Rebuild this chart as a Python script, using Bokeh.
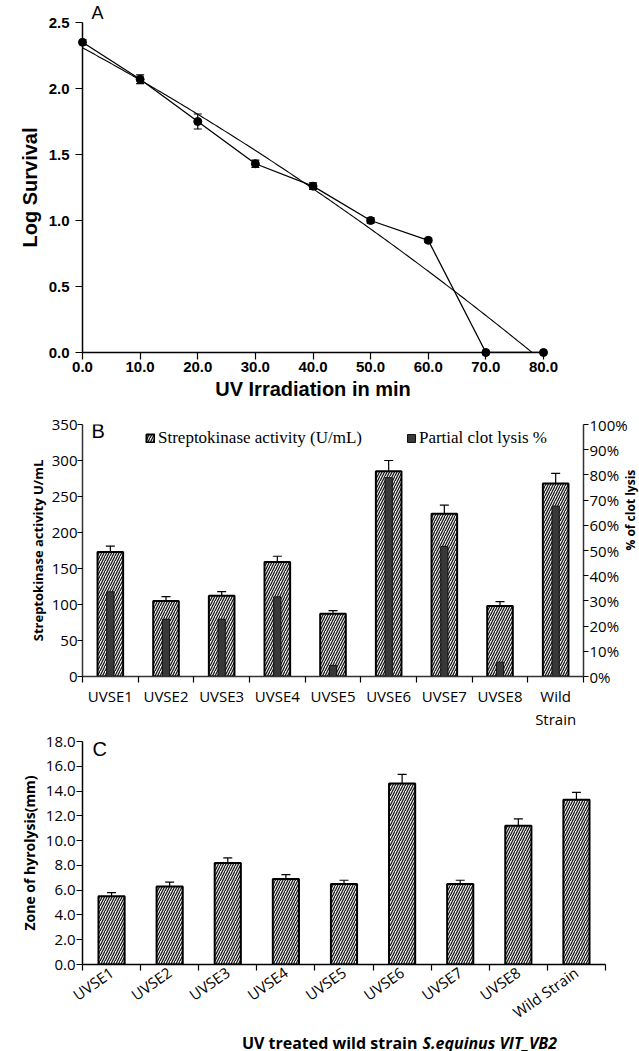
import math
import numpy as np
from bokeh.plotting import figure
from bokeh.layouts import column
from bokeh.core.properties import value
from bokeh.models import (ColumnDataSource, Whisker, TeeHead, FixedTicker, Range1d, LinearAxis,
                          PrintfTickFormatter, Label, Legend, LegendItem)
from bokeh.embed import file_html
from bokeh.resources import INLINE

# ---------------- data ----------------
# Panel A
uv_minutes = [0, 10, 20, 30, 40, 50, 60, 70, 80]
log_survival = [2.35, 2.07, 1.75, 1.43, 1.26, 1.00, 0.85, 0.0, 0.0]
log_survival_err = [0.02, 0.033, 0.057, 0.028, 0.025, 0.02, 0.015, 0.0, 0.0]
a_x_ticks = [0, 10, 20, 30, 40, 50, 60, 70, 80]
a_y_ticks = [0, 0.5, 1.0, 1.5, 2.0, 2.5]

# Panel B
strains_b = ["UVSE1", "UVSE2", "UVSE3", "UVSE4", "UVSE5", "UVSE6", "UVSE7", "UVSE8", "Wild"]
strains_b_line2 = ["", "", "", "", "", "", "", "", "Strain"]
streptokinase = [173, 105, 112, 159, 87, 285, 226, 98, 268]
streptokinase_err = [8, 6, 6, 8, 4.5, 15, 12, 6, 14]
clot_lysis_pct = [33.6, 22.7, 22.7, 31.6, 4.4, 78.9, 51.6, 5.7, 67.6]
b_left_ticks = [0, 50, 100, 150, 200, 250, 300, 350]
b_right_ticks = [0, 10, 20, 30, 40, 50, 60, 70, 80, 90, 100]

# Panel C
strains_c = ["UVSE1", "UVSE2", "UVSE3", "UVSE4", "UVSE5", "UVSE6", "UVSE7", "UVSE8", "Wild Strain"]
hydrolysis = [5.5, 6.3, 8.2, 6.9, 6.5, 14.6, 6.5, 11.2, 13.3]
hydrolysis_err = [0.3, 0.35, 0.4, 0.35, 0.3, 0.75, 0.3, 0.55, 0.6]
c_y_ticks = [0, 2, 4, 6, 8, 10, 12, 14, 16, 18]
c_caption = ["UV treated wild strain", "S.equinus VIT_VB2"]

W = 639
SANS = "Liberation Sans"
CAL = "Open Sans"
HATCH = dict(fill_color="#ececec", hatch_pattern="/", hatch_color="#111111",
             hatch_scale=5, hatch_weight=1.2)

def style_axis(ax, font, size, bold=False):
    ax.axis_line_color = "black"
    ax.axis_line_width = 1.5
    ax.major_tick_line_color = "black"
    ax.major_tick_line_width = 1.2
    ax.minor_tick_line_color = "black"
    ax.minor_tick_line_width = 1.2
    ax.major_tick_in = 0
    ax.major_tick_out = 6
    ax.minor_tick_in = 0
    ax.minor_tick_out = 0
    ax.major_label_text_font = font
    ax.major_label_text_font_size = f"{size}px"
    ax.major_label_text_color = "black"
    ax.major_label_text_font_style = "bold" if bold else "normal"
    ax.axis_label_text_color = "black"

def text_label(**kw):
    base = dict(x_units="screen", y_units="screen", text_baseline="middle",
                text_align="left", text_color="black", level="overlay")
    base.update(kw)
    return Label(**base)

# ---------------- Panel A ----------------
pA = figure(frame_width=461, frame_height=330, x_range=Range1d(0, 80), y_range=Range1d(0, 2.5),
            output_backend="svg", toolbar_location=None,
            min_border_left=76, min_border_right=102, min_border_top=0, min_border_bottom=54)
pA.title.text = "A"
pA.title.text_font = SANS
pA.title.text_font_size = "18px"
pA.title.text_font_style = "normal"
pA.title.text_color = "black"
pA.title.align = "left"
pA.title.offset = 9
pA.title.standoff = 0
pA.outline_line_color = None
pA.grid.visible = False
for ax in (pA.xaxis[0], pA.yaxis[0]):
    style_axis(ax, SANS, 15, bold=True)
    ax.formatter = PrintfTickFormatter(format="%.1f")
    ax.axis_label_text_font = SANS
    ax.axis_label_text_font_size = "20px"
    ax.axis_label_text_font_style = "bold"
    ax.major_tick_out = 7
pA.xaxis.ticker = FixedTicker(ticks=a_x_ticks)
pA.yaxis.ticker = FixedTicker(ticks=a_y_ticks)
pA.xaxis.axis_label = "UV Irradiation in min"
pA.yaxis.axis_label = "Log Survival"
pA.xaxis.major_label_standoff = 2
pA.xaxis.axis_label_standoff = 3
pA.yaxis.major_label_standoff = 6
pA.yaxis.axis_label_standoff = 5

srcA = ColumnDataSource(dict(x=uv_minutes, y=log_survival,
                             lo=[v - e for v, e in zip(log_survival, log_survival_err)],
                             hi=[v + e for v, e in zip(log_survival, log_survival_err)]))
# quadratic trendline fitted to the measured points
coef = np.polyfit(uv_minutes, log_survival, 2)
tx = np.linspace(min(uv_minutes), max(uv_minutes), 200)
pA.line(tx, np.polyval(coef, tx), line_color="black", line_width=1.1)
pA.line("x", "y", source=srcA, line_color="black", line_width=1.3)
pA.add_layout(Whisker(base="x", upper="hi", lower="lo", source=srcA, line_color="black", line_width=1.2,
                      upper_head=TeeHead(size=8, line_color="black", line_width=1.2),
                      lower_head=TeeHead(size=8, line_color="black", line_width=1.2)))
pA.scatter("x", "y", source=srcA, size=8, color="black", level="overlay")

# ---------------- Panel B ----------------
nb = len(strains_b)
centers_b = [i + 0.5 for i in range(nb)]
bounds_b = [float(i) for i in range(nb + 1)]
pB = figure(frame_width=501, frame_height=252, x_range=Range1d(0, nb), y_range=Range1d(0, 350),
            output_backend="svg", toolbar_location=None,
            min_border_left=71, min_border_right=60, min_border_top=18, min_border_bottom=44)
pB.outline_line_color = None
pB.grid.visible = False
pB.extra_y_ranges = {"pct": Range1d(0, 100)}

srcB = ColumnDataSource(dict(x=centers_b, s=streptokinase, c=clot_lysis_pct,
                             lo=[v - e for v, e in zip(streptokinase, streptokinase_err)],
                             hi=[v + e for v, e in zip(streptokinase, streptokinase_err)]))
rb1 = pB.vbar(x="x", top="s", width=0.46, source=srcB, line_color="black", line_width=2, **HATCH)
rb2 = pB.vbar(x="x", top="c", width=0.13, source=srcB, y_range_name="pct",
              fill_color="#383838", line_color="#111111", line_width=1)
pB.add_layout(Whisker(base="x", upper="hi", lower="lo", source=srcB, line_color="black", line_width=1.2,
                      upper_head=TeeHead(size=9, line_color="black", line_width=1.2),
                      lower_head=TeeHead(size=9, line_color="black", line_width=1.2)))

style_axis(pB.xaxis[0], CAL, 15)
pB.xaxis.ticker = FixedTicker(ticks=centers_b, minor_ticks=bounds_b)
pB.xaxis.major_label_overrides = {c: s for c, s in zip(centers_b, strains_b)}
pB.xaxis.major_tick_out = 0
pB.xaxis.minor_tick_out = 6
pB.xaxis.major_label_standoff = 3
pB.xaxis.axis_line_color = "#333333"
# second line of the category labels ("Strain")
axB2 = LinearAxis(ticker=FixedTicker(ticks=centers_b),
                  major_label_overrides={c: s for c, s in zip(centers_b, strains_b_line2)})
style_axis(axB2, CAL, 15)
axB2.axis_line_color = None
axB2.major_tick_out = 0
axB2.major_label_standoff = 0
pB.add_layout(axB2, "below")

style_axis(pB.yaxis[0], CAL, 15)
pB.yaxis.ticker = FixedTicker(ticks=b_left_ticks)
pB.yaxis.major_tick_out = 5
pB.yaxis.major_label_standoff = 0
pB.yaxis.axis_label = "Streptokinase activity U/mL"
pB.yaxis.axis_label_text_font = CAL
pB.yaxis.axis_label_text_font_size = "13px"
pB.yaxis.axis_label_text_font_style = "bold"
pB.yaxis.axis_label_standoff = 2
pB.yaxis.axis_line_color = "#333333"

axR = LinearAxis(y_range_name="pct", ticker=FixedTicker(ticks=b_right_ticks),
                 formatter=PrintfTickFormatter(format="%d%%"))
style_axis(axR, CAL, 15)
axR.major_tick_out = 5
axR.major_label_standoff = 1
axR.axis_line_color = "#333333"
axR.axis_label = "% of clot lysis"
axR.axis_label_text_font = CAL
axR.axis_label_text_font_size = "12px"
axR.axis_label_text_font_style = "bold"
axR.axis_label_standoff = 0
axR.axis_label_orientation = math.pi / 2
pB.add_layout(axR, "right")

legB = Legend(items=[LegendItem(label="Streptokinase activity (U/mL)", renderers=[rb1]),
                     LegendItem(label="Partial clot lysis %", renderers=[rb2])],
              orientation="horizontal", location=(63, 228), padding=0, margin=0, spacing=44,
              glyph_width=10, glyph_height=10, label_standoff=3,
              background_fill_alpha=0, border_line_color=None,
              label_text_font="Liberation Serif", label_text_font_size="17px", label_text_color="black")
pB.add_layout(legB)
pB.add_layout(text_label(x=9, y=246, text="B", text_font=SANS, text_font_size="20px"))

# ---------------- Panel C ----------------
nc = len(strains_c)
centers_c = [i + 0.5 for i in range(nc)]
bounds_c = [float(i) for i in range(nc + 1)]
pC = figure(frame_width=523, frame_height=223, x_range=Range1d(0, nc), y_range=Range1d(0, 18),
            output_backend="svg", toolbar_location=None,
            min_border_left=82, min_border_right=34, min_border_top=10, min_border_bottom=60)
pC.outline_line_color = None
pC.grid.visible = False
srcC = ColumnDataSource(dict(x=centers_c, h=hydrolysis,
                             lo=[v - e for v, e in zip(hydrolysis, hydrolysis_err)],
                             hi=[v + e for v, e in zip(hydrolysis, hydrolysis_err)]))
pC.vbar(x="x", top="h", width=0.45, source=srcC, line_color="black", line_width=2, **HATCH)
pC.add_layout(Whisker(base="x", upper="hi", lower="lo", source=srcC, line_color="black", line_width=1.2,
                      upper_head=TeeHead(size=9, line_color="black", line_width=1.2),
                      lower_head=TeeHead(size=9, line_color="black", line_width=1.2)))
style_axis(pC.xaxis[0], CAL, 15)
pC.xaxis.ticker = FixedTicker(ticks=centers_c, minor_ticks=bounds_c)
pC.xaxis.major_label_overrides = {c: s for c, s in zip(centers_c, strains_c)}
pC.xaxis.major_tick_out = 0
pC.xaxis.minor_tick_out = 6
pC.xaxis.major_label_orientation = math.radians(35)
pC.xaxis.major_label_standoff = 0
style_axis(pC.yaxis[0], CAL, 15)
pC.yaxis.ticker = FixedTicker(ticks=c_y_ticks)
pC.yaxis.formatter = PrintfTickFormatter(format="%.1f")
pC.yaxis.major_label_standoff = 1
pC.yaxis.axis_label = "Zone of hyrolysis(mm)"
pC.yaxis.axis_label_text_font = CAL
pC.yaxis.axis_label_text_font_size = "14px"
pC.yaxis.axis_label_text_font_style = "bold"
pC.yaxis.axis_label_standoff = 4
pC.add_layout(text_label(x=10, y=216, text="C", text_font=SANS, text_font_size="20px"))

# caption strip below panel C (bold, with the strain name in bold italic); no axes at all
pCap = figure(frame_width=W, frame_height=18, x_range=Range1d(0, W), y_range=Range1d(0, 1),
              x_axis_location=None, y_axis_location=None,
              output_backend="svg", toolbar_location=None,
              min_border_left=0, min_border_right=0, min_border_top=0, min_border_bottom=0)
pCap.grid.visible = False
pCap.outline_line_color = None
pCap.text(x=[335], y=[0.5], text=[c_caption[0]], text_align="right", text_baseline="middle",
          text_font=value(CAL), text_font_size="16px", text_font_style="bold", text_color="black")
pCap.text(x=[340], y=[0.5], text=[c_caption[1]], text_align="left", text_baseline="middle",
          text_font=value(CAL), text_font_size="16px", text_font_style="bold italic", text_color="black")

layout = column(pA, pB, pC, pCap)
open("out.html", "w").write(file_html(layout, INLINE))
